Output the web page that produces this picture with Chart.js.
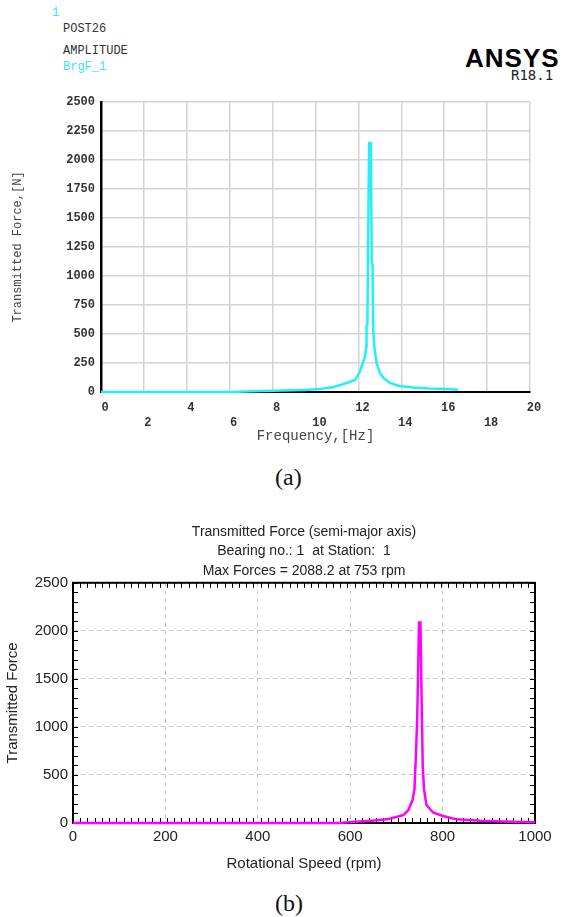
<!DOCTYPE html>
<html>
<head>
<meta charset="utf-8">
<script src="https://cdn.jsdelivr.net/npm/chart.js@4/dist/chart.umd.min.js"></script>
<style>
body{margin:0;background:#fff}
#page{position:relative;width:563px;height:917px;overflow:hidden;background:#fff}
.t{position:absolute;white-space:nowrap;line-height:1}
.mono{font-family:"Liberation Mono","DejaVu Sans Mono",monospace;font-size:12px;color:#333}
.cap{font-family:"Liberation Serif",serif;font-size:24px;color:#111}
canvas{position:absolute;left:0}
</style>
</head>
<body>
<div id="page">
  <div class="t mono" style="left:52px;top:7px;color:#33e8f0">1</div>
  <div class="t mono" style="left:63px;top:23px">POST26</div>
  <div class="t mono" style="left:63px;top:45px">AMPLITUDE</div>
  <div class="t mono" style="left:63px;top:61px;color:#33e8f0">BrgF_1</div>
  <div class="t" style="left:465px;top:43px;font:bold 26px 'Liberation Sans',Arial,sans-serif;letter-spacing:1px;color:#000">ANSYS</div>
  <div class="t" style="left:511px;top:67px;font:14px 'DejaVu Sans Mono',monospace;color:#222">R18.1</div>

  <canvas id="chartA" width="563" height="361" style="top:88px"></canvas>
  <div class="t cap" style="left:275px;top:465px">(a)</div>

  <canvas id="chartB" width="563" height="367" style="top:510px"></canvas>
  <div class="t cap" style="left:275px;top:891px">(b)</div>
</div>

<script>
// (a) ANSYS harmonic response, frequency in Hz
const freqA=[0,2,4,6,6.7,7.5,8.5,9.5,10.2,10.8,11.45,11.84,12.07,12.31,12.36,12.38,12.42,12.45,12.5,12.58,12.62,12.66,12.69,12.75,12.85,13.0,13.2,13.47,13.9,14.55,15.3,16.1,16.65]
const forceA=[0,0,0,0,4,9,13,18,26,40,78,103,175,304,390,570,580,1224,2145,2145,1112,1095,534,380,250,164,115,78,52,38,30,25,20]

// (b) rotor dynamics, speed in rpm
const rpmB=[0,574,580,646,679,697,715,726,735,739,742,745,749,752,755,757,760,765,780,801,830,881,946,1000]
const forceB=[0,0,3,24,38,59,83,135,240,344,677,1080,2088,2088,1170,586,344,187,107,73,38,24,14,7]

const xTicksA=[0,2,4,6,8,10,12,14,16,18,20]
const yTicksA=[0,250,500,750,1000,1250,1500,1750,2000,2250,2500]
const xTicksB=[0,200,400,600,800,1000]
const yTicksB=[0,500,1000,1500,2000,2500]

const monoFont="'Liberation Mono','DejaVu Sans Mono',monospace"
const sansFont="'Liberation Sans',Arial,sans-serif"

function setTicks(arr){
  return s=>{s.ticks=arr.map(v=>({value:v}))}
}

new Chart(document.getElementById('chartA'),{
  type:'line',
  data:{
    datasets:[{
      data:freqA.map((f,i)=>({x:f,y:forceA[i]})),
      borderColor:'#22f0f5',
      borderWidth:2.5,
      pointRadius:0,
      tension:0,
      clip:false
    }]
  },
  options:{
    responsive:false,
    animation:false,
    layout:{padding:{top:14,right:33,left:0,bottom:0}},
    plugins:{legend:{display:false},tooltip:{enabled:false}},
    scales:{
      x:{
        type:'linear',min:0,max:20,
        afterBuildTicks:setTicks(xTicksA),
        afterFit:s=>{s.height=57},
        grid:{color:'#d4d4d4',lineWidth:1.5,drawTicks:false},
        border:{color:'#000',width:2},
        ticks:{
          padding:9,labelOffset:4,maxRotation:0,autoSkip:false,
          color:'#333',font:{family:monoFont,size:12,weight:'bold'},
          callback:(v,i)=>i%2===0?[String(v),'']:['',String(v)]
        },
        title:{display:true,text:'Frequency,[Hz]',color:'#444',font:{family:monoFont,size:14},padding:4}
      },
      y:{
        min:0,max:2500,
        afterBuildTicks:setTicks(yTicksA),
        afterFit:s=>{s.width=101},
        grid:{color:'#d4d4d4',lineWidth:1.5,drawTicks:false},
        border:{color:'#000',width:2.5},
        ticks:{padding:6,color:'#333',font:{family:monoFont,size:12,weight:'bold'},callback:v=>String(v)},
        title:{display:true,text:'Transmitted Force,[N]',color:'#444',font:{family:monoFont,size:12},padding:11}
      }
    }
  }
})

// box frame with inward minor ticks for chart (b)
const frameB={
  id:'frameB',
  beforeDatasetsDraw(c){
    const {ctx,chartArea:a,scales:{x,y}}=c
    ctx.save()
    ctx.strokeStyle='#000'
    ctx.lineWidth=1
    ctx.beginPath()
    for(let v=0;v<=1000.01;v+=1000/64){
      const px=Math.round(x.getPixelForValue(v))+0.5
      ctx.moveTo(px,a.top);ctx.lineTo(px,a.top+5)
      ctx.moveTo(px,a.bottom);ctx.lineTo(px,a.bottom-5)
    }
    for(let v=0;v<=2500;v+=100){
      const py=Math.round(y.getPixelForValue(v))+0.5
      ctx.moveTo(a.left,py);ctx.lineTo(a.left+5,py)
      ctx.moveTo(a.right,py);ctx.lineTo(a.right-5,py)
    }
    ctx.stroke()
    ctx.lineWidth=2
    ctx.strokeRect(a.left,a.top,a.right-a.left,a.bottom-a.top)
    ctx.restore()
  }
}

new Chart(document.getElementById('chartB'),{
  type:'line',
  data:{
    datasets:[{
      data:rpmB.map((r,i)=>({x:r,y:forceB[i]})),
      borderColor:'#ff00ff',
      borderWidth:2.5,
      pointRadius:0,
      tension:0,
      clip:false
    }]
  },
  plugins:[frameB],
  options:{
    responsive:false,
    animation:false,
    layout:{padding:{top:0,right:28,left:0,bottom:0}},
    plugins:{
      legend:{display:false},
      tooltip:{enabled:false},
      title:{
        display:true,fullSize:false,
        text:['Transmitted Force (semi-major axis)','Bearing no.: 1  at Station:  1','Max Forces = 2088.2 at 753 rpm'],
        color:'#222',
        font:{family:sansFont,size:14,weight:'normal',lineHeight:1.4},
        padding:{top:12,bottom:2}
      }
    },
    scales:{
      x:{
        type:'linear',min:0,max:1000,
        afterBuildTicks:setTicks(xTicksB),
        afterFit:s=>{s.height=54},
        grid:{color:'#c4c4c4',lineWidth:1,drawTicks:false},
        border:{display:false,dash:[4,4]},
        ticks:{padding:5,maxRotation:0,color:'#222',font:{family:sansFont,size:15},callback:v=>String(v)},
        title:{display:true,text:'Rotational Speed (rpm)',color:'#222',font:{family:sansFont,size:15},padding:4}
      },
      y:{
        min:0,max:2500,
        afterBuildTicks:setTicks(yTicksB),
        afterFit:s=>{s.width=73},
        grid:{color:'#c4c4c4',lineWidth:1,drawTicks:false},
        border:{display:false,dash:[4,4]},
        ticks:{padding:5,color:'#222',font:{family:sansFont,size:15},callback:v=>String(v)},
        title:{display:true,text:'Transmitted Force',color:'#222',font:{family:sansFont,size:15},padding:4}
      }
    }
  }
})
</script>
</body>
</html>
